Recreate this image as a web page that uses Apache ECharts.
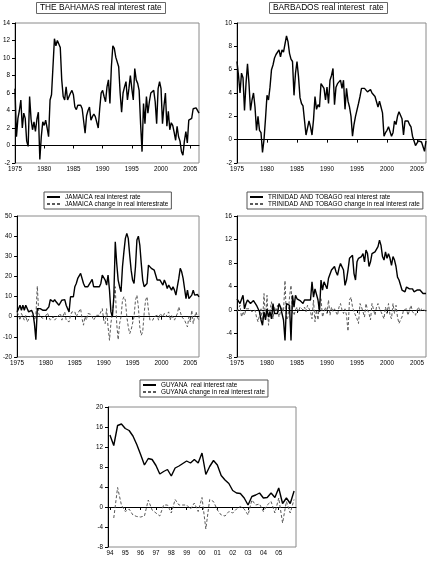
<!DOCTYPE html>
<html><head><meta charset="utf-8">
<script src="https://cdn.jsdelivr.net/npm/echarts@6/dist/echarts.min.js"></script>
<style>html,body{margin:0;padding:0;background:#fff}#c{width:430px;height:571px}</style>
</head><body><div id="c"></div>
<script>
// ---------- categories / tick labels ----------
const mainStartYear = 1975, mainCount = 127;       // 1975Q1 .. 2006Q3
const guyanaStartYear = 1994, guyanaCount = 49;    // 1994Q1 .. 2006Q1
const mainYearLabels = ['1975','1980','1985','1990','1995','2000','2005'];
const guyanaYearLabels = ['94','95','96','97','98','99','00','01','02','03','04','05'];

function quarterCats(startYear, n){
  const out = [];
  for (let i = 0; i < n; i++) out.push((startYear + Math.floor(i/4)) + 'Q' + (i%4 + 1));
  return out;
}
const mainQuarters = quarterCats(mainStartYear, mainCount);
const guyanaQuarters = quarterCats(guyanaStartYear, guyanaCount);

// ---------- series values ----------
const bahamasReal = [
 6.5,1.0,3.1,4.0, 5.2,2.0,3.7,3.1, 0.5,-0.1,5.6,3.0, 1.8,2.7,1.6,3.0, 3.8,-1.6,1.0,2.7,
 2.3,2.9,2.0,1.0, 5.2,5.8,5.6,12.2, 11.4,12.0,11.6,11.2, 7.5,5.6,5.2,6.7, 5.2,5.4,6.0,6.3,
 5.8,4.4,4.1,4.6, 4.4,4.6,4.2,4.1, 1.4,3.4,4.0,4.4, 2.9,3.3,3.6,3.3, 3.3,2.0,4.2,6.0,
 6.3,5.6,5.0,6.7, 7.5,4.8,9.0,11.4, 11.1,10.1,10.0,9.0, 6.0,3.8,6.0,6.7, 7.3,5.2,6.5,8.0,
 6.5,5.2,8.8,7.5, 7.1,6.3,2.5,-0.7, 4.8,2.5,5.6,3.7, 5.0,6.0,5.8,6.3, 5.0,2.5,6.5,7.3,
 6.5,2.5,4.5,6.0, 2.2,3.9,1.8,2.6, 2.3,1.5,0.6,2.2, 1.0,0.5,-0.7,-1.1, 0.5,1.6,0.3,2.9,
 3.0,3.1,4.2,4.2, 4.3,4.1,3.7];

const barbadosReal = [
 6.7,5.5,4.0,5.7, 5.3,2.5,4.8,6.5, 4.8,2.5,3.4,4.0, 2.8,0.8,2.0,0.8, 0.6,-1.1,0.0,1.8,
 3.8,3.4,4.5,6.0, 6.4,7.0,7.3,7.4, 7.7,7.1,7.7,7.5, 8.2,8.9,8.4,7.4, 6.9,6.7,3.8,5.7,
 6.7,5.4,3.6,3.1, 2.9,2.8,0.4,1.0, 1.6,1.1,0.4,1.7, 3.7,2.6,3.0,2.8, 4.8,4.7,4.4,3.4,
 4.5,3.1,5.1,5.5, 6.1,3.0,4.5,4.8, 4.8,5.1,4.4,5.1, 2.6,4.4,3.3,2.8, 2.0,0.3,1.3,2.0,
 2.0,3.1,3.7,4.4, 4.4,4.4,4.3,4.1, 4.0,4.3,4.0,4.1, 3.7,3.8,2.8,3.3, 2.8,2.3,0.3,0.6,
 0.8,1.1,0.7,0.3, 0.6,1.6,1.3,2.0, 2.4,2.1,1.8,0.4, 1.6,1.7,1.6,1.3, 1.1,0.3,0.2,-0.5,
 -0.3,-0.1,-0.1,-0.2, -0.1,-1.0,-0.1];

const jamaicaReal = [
 2.4,4.0,5.7,3.2, 5.7,3.2,5.7,4.9, 2.4,3.2,3.2,1.6, -3.4,-11.4,4.0,4.0, 4.0,4.0,3.2,2.4,
 3.2,2.4,4.9,8.5, 8.5,7.4,8.5,7.4, 6.9,5.7,6.6,8.2, 7.4,8.5,5.7,4.0, 2.4,9.9,10.7,9.9,
 14.9,16.5,19.0,19.5, 21.5,20.7,16.5,14.9, 15.7,14.9,15.7,17.3, 18.5,14.9,14.0,14.9, 14.0,14.9,16.5,20.7,
 20.7,18.2,15.7,20.7, 13.2,2.4,0.0,9.9, 37.2,26.5,18.2,14.9, 12.4,24.8,32.3,38.9, 41.4,38.9,30.6,23.1,
 18.2,16.5,24.8,38.1, 40.0,35.6,26.5,18.2, 14.9,14.0,16.5,25.6, 26.5,24.0,23.1,23.1, 22.3,18.2,18.5,18.2,
 17.3,15.7,18.2,16.5, 14.0,15.7,14.9,13.2, 14.9,13.2,10.7,14.9, 19.0,24.0,22.3,19.0, 14.0,9.0,13.2,9.0,
 9.0,10.7,13.2,10.7, 11.5,11.0,9.9];

const jamaicaChange = [
 2.4,0.7,-1.7,1.6, 0.0,-1.7,0.7,-2.6, -2.6,0.0,-0.8,0.7, -1.7,0.5,15.2,1.6, 0.0,0.7,-0.8,-1.7,
 0.7,1.9,0.0,-1.7, -1.0,0.0,-1.7,-0.9, 0.0,0.7,1.6,-1.7, 0.7,2.4,-1.7,-1.7, -2.6,0.7,2.4,1.6,
 2.4,0.0,1.6,2.0, 4.0,-1.0,-4.2,0.0, -1.7,1.6,0.7,1.2, 0.0,-1.7,-0.5,0.7, 0.0,0.7,2.4,4.0,
 -1.7,-3.4,4.0,-5.0, -11.7,-3.0,1.6,0.7, 14.9,-3.4,-11.4,-3.4, 0.0,8.2,9.9,8.2, 0.0,-5.0,-8.4,-6.5,
 -6.5,0.0,8.2,10.7, 4.9,-5.1,-9.2,-7.5, 1.6,8.2,9.9,3.2, -1.7,-0.8,-1.7,0.0, -0.8,0.7,-1.7,1.6,
 1.6,0.0,1.6,0.0, -0.8,2.4,-1.7,0.7, 1.6,-1.7,-1.7,1.6, 4.9,4.0,0.0,0.0, -1.7,-2.6,-5.1,0.0,
 -2.6,3.2,-3.4,0.0, 2.4,-0.5,-1.7];

const trinidadReal = [
 1.9,1.6,1.1,1.4, 2.5,0.2,1.1,1.7, 1.4,1.1,1.4,1.6, 1.4,0.8,0.8,-0.3, -1.7,-2.6,-0.3,-1.7,
 0.2,-1.2,-0.3,-1.5, 1.1,-0.6,-0.3,-0.6, 1.1,0.5,0.2,-1.7, -5.2,1.1,1.4,0.8, -5.2,2.5,0.5,2.5,
 1.9,1.7,1.6,1.4, 1.1,1.7,1.4,1.7, 1.6,1.7,4.8,2.2, 3.6,3.4,1.7,-0.3, 5.1,3.4,4.8,4.8,
 3.6,5.4,5.6,6.8, 7.1,7.4,6.5,5.9, 7.1,7.9,7.9,6.8, 4.2,5.1,6.8,8.8, 9.1,9.3,6.2,5.1,
 8.2,8.8,8.5,9.1, 9.6,8.2,10.2,9.6, 7.4,8.2,9.6,9.3, 9.9,9.9,10.8,11.9, 11.0,9.1,8.5,9.9,
 8.8,9.6,8.8,7.6, 9.1,8.5,7.4,5.6, 5.1,4.8,3.4,3.4, 3.1,3.9,4.2,3.6, 3.9,3.6,3.1,2.8,
 3.4,3.1,3.4,3.1, 2.8,3.1,2.8];

const trinidadChange = [
 -0.3,-0.6,0.8,-1.2, -0.3,-0.9,0.2,0.5, 0.2,0.5,-0.3,-0.6, 0.0,-1.2,-2.0,-0.9, 0.2,-2.3,2.8,-1.7,
 2.5,-2.6,0.0,1.4, -1.5,0.5,-0.3,0.8, -1.2,-0.3,0.5,-0.3, 5.0,-1.7,-1.2,2.2, 4.2,-0.3,-0.9,0.0,
 0.5,-0.3,0.5,0.2, 0.0,0.5,-0.3,0.8, 0.5,-0.3,-1.5,1.7, -2.0,0.0,-1.7,1.4, 1.9,-1.2,-0.3,0.5,
 -0.6,1.7,-0.9,0.5, -0.3,0.2,0.0,-0.9, 0.5,1.1,0.0,-0.6, 0.2,-0.9,-3.6,1.7, 2.2,0.5,-0.3,0.0,
 -1.5,-2.3,1.1,0.5, -0.3,-1.2,1.1,0.0, -0.6,-1.7,1.1,0.8, -0.9,0.5,1.1,0.2, -0.3,-0.6,-1.5,0.5,
 -0.6,1.1,-0.9,-1.5, 1.1,-0.6,0.8,-1.2, -2.3,-1.7,-1.2,0.0, -0.3,0.2,-0.9,0.0, 0.8,-0.3,-0.3,-0.9,
 0.0,0.5,-0.3,0.2, 0.5,0.0,-0.3];

const guyanaReal = [
 14.4,12.3,16.3,16.6, 15.7,15.3,14.2,12.5, 10.5,8.4,9.7,9.5, 8.3,6.6,7.1,7.5, 6.2,7.8,8.2,8.7,
 9.2,8.8,9.5,8.8, 10.8,6.5,8.1,9.3, 8.4,6.3,5.4,4.7, 3.3,2.8,2.7,1.8, 0.4,2.1,2.4,2.8,
 1.8,1.9,2.8,1.9, 3.8,0.7,1.8,0.7, 3.2];

const guyanaChange = [
 null,-2.2,3.9,0.4, -0.9,-0.4,-1.6,-1.9, -2.0,-1.8,1.4,-0.6, -1.2,-1.8,0.4,0.4, -1.2,1.5,0.4,0.4,
 0.4,-0.4,0.8,-0.9, 1.9,-4.4,1.5,1.1, -0.6,-1.6,-1.8,-0.9, -1.2,-0.4,0.1,-0.4, -1.6,1.4,0.4,0.6,
 -0.9,0.4,1.1,-1.2, 1.8,-3.2,1.1,-1.2, 1.5];

// ---------- styling ----------
const FONT = 'Liberation Sans, Arial, sans-serif';
const TICK_FS = 6.3;

const grids = [
  {left: 11,  top: 23,  width: 188, height: 140},
  {left: 237, top: 23,  width: 189, height: 140},
  {left: 12,  top: 216, width: 187, height: 141},
  {left: 237, top: 216, width: 189, height: 141},
  {left: 108, top: 407, width: 188, height: 140}
].map(g => Object.assign({show: true, borderColor: '#8a8a8a', borderWidth: 1, containLabel: false}, g));

function mainX(gi){
  const every = idx => idx % 20 === 0;
  return {
    type: 'category', gridIndex: gi, data: mainQuarters, boundaryGap: false,
    axisLine: {lineStyle: {color: '#000', width: 1}},
    axisTick: {show: true, interval: every, length: 3, lineStyle: {color: '#000'}},
    axisLabel: {interval: every, formatter: v => v.slice(0, 4), fontSize: TICK_FS, margin: 3,
      color: '#000', fontFamily: FONT, hideOverlap: false},
    splitLine: {show: false}
  };
}
function guyX(gi){
  const every = idx => idx % 4 === 0 && idx < 48;
  return {
    type: 'category', gridIndex: gi, data: guyanaQuarters, boundaryGap: true,
    axisLine: {lineStyle: {color: '#000', width: 1}},
    axisTick: {show: true, interval: every, alignWithLabel: true, length: 3, lineStyle: {color: '#000'}},
    axisLabel: {interval: every, formatter: v => v.slice(2, 4), fontSize: TICK_FS, margin: 3,
      color: '#000', fontFamily: FONT, hideOverlap: false},
    splitLine: {show: false}
  };
}
function yAx(gi, min, max, step){
  return {
    type: 'value', gridIndex: gi, min: min, max: max, interval: step,
    axisLine: {show: true, lineStyle: {color: '#000', width: 1}},
    axisTick: {show: true, length: 3, lineStyle: {color: '#000'}},
    axisLabel: {fontSize: TICK_FS, margin: 5, color: '#000', fontFamily: FONT, hideOverlap: false},
    splitLine: {show: false}
  };
}

function solid(name, gi, data){
  return {name, type: 'line', xAxisIndex: gi, yAxisIndex: gi, data, symbol: 'none',
    lineStyle: {color: '#000', width: 1.4}, itemStyle: {color: '#000'}, animation: false, z: 3};
}
function dashed(name, gi, data){
  return {name, type: 'line', xAxisIndex: gi, yAxisIndex: gi, data, symbol: 'none',
    lineStyle: {color: '#5a5a5a', width: 1, type: [3, 2]}, itemStyle: {color: '#5a5a5a'}, animation: false, z: 2};
}

function titleBox(text, left){
  return {text, left, top: 2, borderColor: '#666', borderWidth: 1, padding: [2, 4],
    textStyle: {fontSize: 8.3, fontWeight: 'normal', color: '#000', fontFamily: FONT}};
}
function legendBox(names, left, top){
  return {data: names, left, top, orient: 'vertical', itemWidth: 13, itemHeight: 7, itemGap: 1,
    padding: [2, 3, 2, 2], borderColor: '#555', borderWidth: 1, selectedMode: false,
    itemStyle: {color: 'rgba(0,0,0,0)', borderColor: 'rgba(0,0,0,0)', borderWidth: 0},
    textStyle: {fontSize: 6.4, color: '#000', fontFamily: FONT}};
}

const names = {
  jr: 'JAMAICA real interest rate', jc: 'JAMAICA change in real interestrate',
  tr: 'TRINIDAD AND TOBAGO real interest rate', tc: 'TRINIDAD AND TOBAGO change in real interest rate',
  gr: 'GUYANA  real interest rate', gc: 'GUYANA change in real interest rate'
};

const option = {
  animation: false,
  backgroundColor: '#fff',
  textStyle: {fontFamily: FONT},
  title: [titleBox('THE BAHAMAS real interest rate', 36), titleBox('BARBADOS real interest  rate', 269)],
  legend: [legendBox([names.jr, names.jc], 44, 192), legendBox([names.tr, names.tc], 247, 192),
           legendBox([names.gr, names.gc], 140, 380)],
  grid: grids,
  xAxis: [mainX(0), mainX(1), mainX(2), mainX(3), guyX(4)],
  yAxis: [yAx(0, -2, 14, 2), yAx(1, -2, 10, 2), yAx(2, -20, 50, 10), yAx(3, -8, 16, 4), yAx(4, -8, 20, 4)],
  series: [
    solid('THE BAHAMAS real interest rate', 0, bahamasReal),
    solid('BARBADOS real interest rate', 1, barbadosReal),
    solid(names.jr, 2, jamaicaReal), dashed(names.jc, 2, jamaicaChange),
    solid(names.tr, 3, trinidadReal), dashed(names.tc, 3, trinidadChange),
    solid(names.gr, 4, guyanaReal), dashed(names.gc, 4, guyanaChange)
  ]
};
const chart = echarts.init(document.getElementById('c'), null, {renderer: 'canvas'});
chart.setOption(option);
</script></body></html>
